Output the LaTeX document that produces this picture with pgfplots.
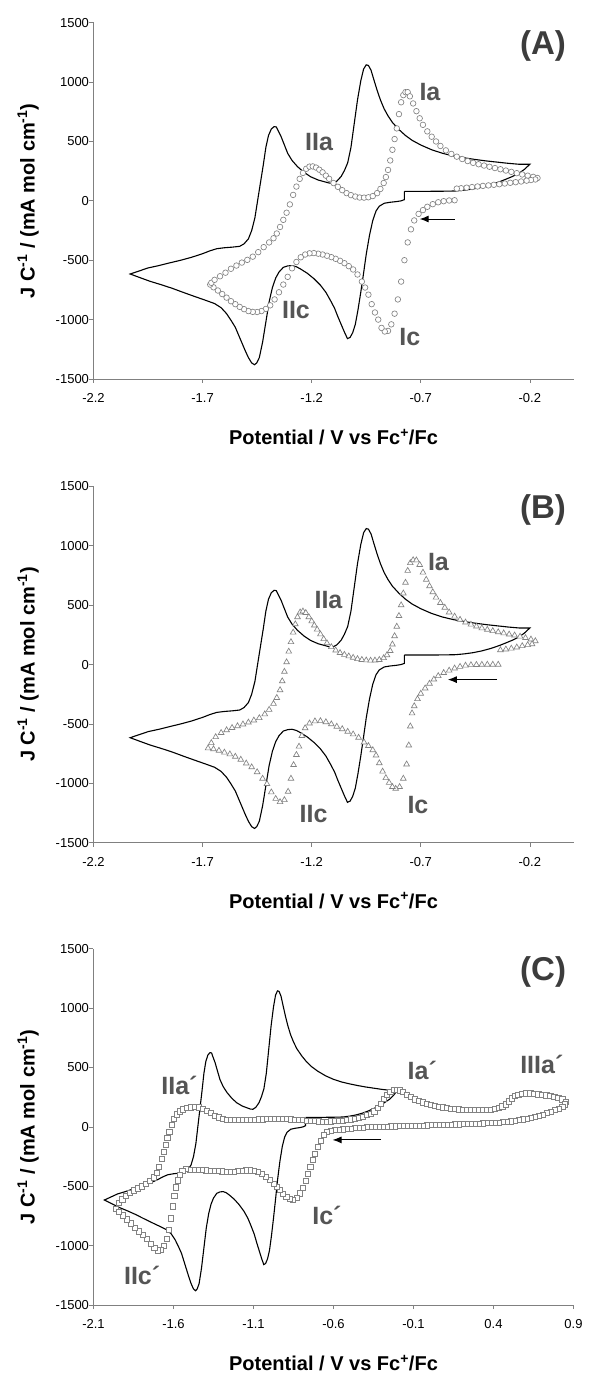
\documentclass[border=0pt]{standalone}
\usepackage{fontspec}
\setmainfont{Liberation Sans}
\usepackage{pgfplots}
\usepackage{pgfplotstable}
\pgfplotsset{compat=1.18}
\usetikzlibrary{arrows.meta}
\definecolor{mgray}{RGB}{130,130,130}
\definecolor{agray}{RGB}{128,128,128}
\definecolor{lgray}{RGB}{85,85,85}
\definecolor{pgray}{RGB}{60,60,60}

\pgfplotstableread{
x y
-0.775 80
-0.775 10
-0.79 0
-0.81 -6
-0.84 -12
-0.867 -20
-0.89 -45
-0.905 -85
-0.92 -165
-0.935 -290
-0.95 -450
-0.963 -620
-0.975 -770
-0.988 -920
-1.0 -1040
-1.012 -1110
-1.024 -1150
-1.036 -1160
-1.05 -1105
-1.065 -1040
-1.08 -975
-1.095 -905
-1.115 -835
-1.135 -770
-1.16 -710
-1.19 -655
-1.22 -610
-1.25 -575
-1.27 -555
-1.29 -545
-1.31 -548
-1.33 -560
-1.35 -600
-1.365 -650
-1.38 -730
-1.395 -850
-1.41 -1020
-1.425 -1190
-1.44 -1320
-1.452 -1365
-1.462 -1380
-1.475 -1365
-1.49 -1320
-1.505 -1260
-1.52 -1195
-1.535 -1130
-1.55 -1065
-1.57 -1005
-1.59 -950
-1.615 -900
-1.645 -865
-1.69 -835
-1.74 -803
-1.79 -770
-1.84 -736
-1.89 -706
-1.94 -678
-1.985 -648
-2.032 -616
-1.99 -590
-1.95 -565
-1.90 -545
-1.85 -522
-1.80 -500
-1.75 -475
-1.70 -445
-1.665 -420
-1.635 -403
-1.60 -395
-1.565 -390
-1.53 -383
-1.51 -362
-1.49 -320
-1.475 -250
-1.46 -140
-1.448 0
-1.435 150
-1.422 300
-1.41 450
-1.398 550
-1.385 605
-1.372 625
-1.362 622
-1.355 595
-1.34 540
-1.325 470
-1.31 400
-1.29 340
-1.265 288
-1.235 240
-1.205 203
-1.17 175
-1.14 160
-1.12 150
-1.104 148
-1.085 165
-1.065 205
-1.05 255
-1.035 320
-1.02 450
-1.005 650
-0.99 850
-0.975 1010
-0.962 1110
-0.95 1145
-0.94 1140
-0.928 1100
-0.915 1020
-0.90 930
-0.885 850
-0.868 775
-0.85 715
-0.83 660
-0.80 600
-0.77 550
-0.74 510
-0.70 470
-0.65 430
-0.60 400
-0.55 378
-0.50 362
-0.45 348
-0.40 336
-0.35 326
-0.30 316
-0.25 308
-0.20 308
-0.225 265
-0.25 232
-0.28 205
-0.31 182
-0.34 160
-0.38 135
-0.42 115
-0.46 100
-0.50 90
-0.54 83
-0.60 81
-0.68 80
-0.775 80
}\solid

\pgfplotstableread{
x y
-0.545 5
-0.57 3
-0.595 -3
-0.62 -12
-0.645 -28
-0.67 -50
-0.69 -78
-0.71 -110
-0.73 -165
-0.745 -240
-0.76 -350
-0.775 -500
-0.79 -680
-0.805 -830
-0.82 -950
-0.835 -1040
-0.85 -1095
-0.865 -1100
-0.88 -1070
-0.895 -1000
-0.91 -940
-0.925 -870
-0.94 -790
-0.955 -730
-0.97 -680
-0.99 -620
-1.01 -578
-1.03 -550
-1.05 -525
-1.07 -505
-1.09 -488
-1.11 -474
-1.13 -462
-1.15 -452
-1.17 -445
-1.19 -440
-1.21 -442
-1.23 -452
-1.25 -475
-1.27 -515
-1.29 -568
-1.31 -640
-1.33 -705
-1.35 -770
-1.37 -830
-1.39 -880
-1.41 -910
-1.43 -928
-1.45 -936
-1.47 -935
-1.49 -928
-1.51 -912
-1.53 -893
-1.55 -870
-1.57 -845
-1.59 -815
-1.61 -785
-1.63 -755
-1.65 -728
-1.665 -705
-1.66 -690
-1.645 -665
-1.62 -635
-1.595 -605
-1.57 -572
-1.545 -545
-1.52 -520
-1.495 -497
-1.47 -470
-1.445 -432
-1.42 -390
-1.395 -350
-1.375 -315
-1.36 -275
-1.345 -220
-1.33 -160
-1.315 -100
-1.30 -30
-1.285 50
-1.27 120
-1.255 185
-1.24 235
-1.225 270
-1.21 288
-1.195 290
-1.18 280
-1.165 262
-1.15 240
-1.135 212
-1.12 185
-1.10 150
-1.08 118
-1.06 90
-1.04 65
-1.02 48
-1.00 36
-0.98 28
-0.96 27
-0.94 30
-0.92 40
-0.90 65
-0.885 100
-0.87 150
-0.86 200
-0.85 260
-0.84 340
-0.83 430
-0.82 520
-0.81 610
-0.80 730
-0.79 830
-0.78 890
-0.77 915
-0.76 915
-0.75 880
-0.735 820
-0.72 755
-0.705 695
-0.69 640
-0.67 585
-0.65 540
-0.63 500
-0.61 462
-0.585 425
-0.56 395
-0.535 372
-0.51 352
-0.485 335
-0.46 320
-0.435 308
-0.41 297
-0.385 287
-0.36 276
-0.335 266
-0.31 255
-0.285 244
-0.26 233
-0.235 222
-0.21 212
-0.185 202
-0.165 192
-0.175 180
-0.195 175
-0.215 170
-0.24 163
-0.265 157
-0.29 152
-0.315 146
-0.34 140
-0.365 135
-0.39 130
-0.415 126
-0.44 121
-0.465 116
-0.49 111
-0.515 106
-0.535 103
}\circA

\pgfplotstableread{
x y
-0.345 0
-0.37 0
-0.395 0
-0.42 -1
-0.445 -2
-0.47 -4
-0.495 -8
-0.52 -18
-0.545 -32
-0.57 -50
-0.595 -70
-0.62 -96
-0.64 -125
-0.66 -160
-0.68 -200
-0.70 -245
-0.715 -290
-0.73 -350
-0.74 -410
-0.748 -520
-0.755 -680
-0.765 -840
-0.78 -960
-0.797 -1030
-0.815 -1045
-0.83 -1030
-0.845 -995
-0.86 -955
-0.875 -900
-0.89 -830
-0.905 -765
-0.92 -720
-0.94 -685
-0.96 -655
-0.985 -615
-1.01 -587
-1.035 -565
-1.06 -543
-1.085 -522
-1.11 -502
-1.135 -484
-1.16 -475
-1.185 -477
-1.21 -495
-1.23 -535
-1.245 -600
-1.258 -690
-1.27 -760
-1.283 -845
-1.295 -960
-1.308 -1070
-1.325 -1140
-1.345 -1157
-1.365 -1130
-1.385 -1075
-1.405 -1005
-1.425 -960
-1.45 -905
-1.475 -864
-1.50 -832
-1.525 -800
-1.55 -775
-1.575 -755
-1.60 -740
-1.625 -725
-1.65 -712
-1.675 -705
-1.66 -660
-1.64 -610
-1.615 -575
-1.59 -552
-1.565 -533
-1.54 -518
-1.515 -503
-1.49 -487
-1.465 -470
-1.44 -450
-1.415 -418
-1.395 -380
-1.375 -330
-1.36 -280
-1.345 -215
-1.335 -140
-1.325 -60
-1.315 20
-1.305 110
-1.295 190
-1.285 270
-1.275 340
-1.265 400
-1.253 440
-1.24 448
-1.227 435
-1.213 400
-1.20 365
-1.188 330
-1.175 295
-1.16 255
-1.145 215
-1.13 180
-1.11 148
-1.09 120
-1.07 98
-1.05 83
-1.03 70
-1.01 58
-0.99 47
-0.97 40
-0.95 36
-0.93 34
-0.91 35
-0.89 40
-0.87 55
-0.855 80
-0.84 115
-0.83 170
-0.82 240
-0.81 320
-0.80 410
-0.79 500
-0.78 600
-0.77 690
-0.76 790
-0.748 855
-0.735 880
-0.72 878
-0.705 840
-0.69 775
-0.675 715
-0.66 660
-0.645 610
-0.63 565
-0.61 520
-0.59 480
-0.57 440
-0.545 405
-0.52 378
-0.495 355
-0.47 337
-0.445 321
-0.42 306
-0.395 294
-0.37 283
-0.345 273
-0.32 264
-0.295 254
-0.27 246
-0.245 236
-0.22 225
-0.195 212
-0.175 198
-0.19 172
-0.21 165
-0.235 156
-0.26 145
-0.285 135
-0.31 128
-0.335 122
}\triB

\pgfplotstableread{
x y
-1.96 -690
-1.94 -640
-1.92 -610
-1.90 -582
-1.875 -555
-1.85 -535
-1.825 -518
-1.80 -500
-1.775 -478
-1.75 -455
-1.725 -425
-1.705 -385
-1.69 -335
-1.675 -270
-1.662 -210
-1.65 -150
-1.638 -90
-1.626 -40
-1.612 15
-1.598 65
-1.58 105
-1.56 130
-1.54 147
-1.515 158
-1.49 165
-1.465 167
-1.44 165
-1.415 155
-1.39 135
-1.365 115
-1.34 95
-1.315 80
-1.29 70
-1.265 62
-1.24 57
-1.215 56
-1.19 57
-1.165 58
-1.14 60
-1.115 61
-1.09 62
-1.065 63
-1.04 64
-1.015 65
-0.99 66
-0.965 67
-0.94 67
-0.915 67
-0.89 66
-0.865 64
-0.84 62
-0.815 59
-0.79 56
-0.765 53
-0.74 51
-0.715 48
-0.69 46
-0.665 45
-0.64 45
-0.615 46
-0.59 48
-0.565 51
-0.54 54
-0.515 59
-0.49 64
-0.465 70
-0.44 77
-0.415 86
-0.39 98
-0.365 113
-0.345 130
-0.325 160
-0.305 195
-0.285 235
-0.265 270
-0.245 298
-0.225 312
-0.205 315
-0.185 308
-0.165 292
-0.14 270
-0.115 250
-0.09 232
-0.065 218
-0.04 206
-0.015 195
0.01 186
0.035 178
0.06 170
0.085 164
0.11 159
0.135 154
0.16 150
0.185 147
0.21 144
0.235 142
0.26 141
0.285 140
0.31 140
0.335 141
0.36 143
0.385 146
0.41 152
0.435 160
0.455 172
0.475 190
0.495 215
0.515 240
0.535 260
0.555 272
0.58 280
0.605 283
0.63 282
0.655 278
0.68 274
0.705 270
0.73 266
0.755 262
0.78 256
0.805 247
0.83 232
0.85 212
0.845 190
0.83 168
0.81 155
0.785 140
0.76 127
0.735 115
0.71 104
0.685 94
0.66 85
0.635 77
0.61 70
0.585 63
0.56 57
0.535 52
0.51 47
0.485 43
0.46 40
0.435 37
0.41 35
0.385 33
0.36 31
0.335 29
0.31 28
0.285 27
0.26 26
0.235 24
0.21 23
0.185 22
0.16 21
0.135 19
0.11 18
0.085 17
0.06 16
0.035 15
0.01 14
-0.015 13
-0.04 12
-0.065 11
-0.09 10
-0.115 9
-0.14 8
-0.165 7
-0.19 6
-0.215 5
-0.24 4
-0.265 3
-0.29 2
-0.315 1
-0.34 0
-0.365 -1
-0.39 -3
-0.415 -5
-0.44 -7
-0.465 -10
-0.49 -14
-0.515 -17
-0.54 -20
-0.565 -24
-0.59 -28
-0.615 -34
-0.64 -45
-0.66 -70
-0.68 -115
-0.70 -170
-0.715 -225
-0.73 -280
-0.745 -338
-0.76 -395
-0.775 -455
-0.79 -515
-0.81 -560
-0.83 -595
-0.855 -615
-0.875 -605
-0.895 -588
-0.915 -562
-0.935 -532
-0.955 -505
-0.975 -478
-1.00 -445
-1.025 -420
-1.05 -396
-1.075 -380
-1.10 -370
-1.125 -366
-1.15 -366
-1.175 -368
-1.20 -372
-1.225 -376
-1.25 -378
-1.275 -378
-1.30 -375
-1.325 -372
-1.35 -371
-1.375 -369
-1.40 -366
-1.425 -365
-1.45 -364
-1.475 -362
-1.50 -360
-1.525 -356
-1.545 -370
-1.562 -405
-1.575 -450
-1.585 -510
-1.595 -580
-1.605 -670
-1.615 -770
-1.628 -865
-1.642 -945
-1.66 -1000
-1.68 -1035
-1.70 -1040
-1.72 -1020
-1.74 -985
-1.765 -945
-1.79 -912
-1.815 -880
-1.84 -848
-1.865 -812
-1.89 -778
-1.915 -745
-1.94 -718
}\sqC

\pgfplotsset{
  cv/.style={
    scale only axis, width=480pt, height=356.3pt,
    ymin=-1500, ymax=1500,
    ytick={-1500,-1000,-500,0,500,1000,1500},
    yticklabels={-1500,-1000,-500,0,500,1000,1500},
    axis lines=left,
    axis line style={-, draw=agray, line width=0.7pt},
    tick align=outside, major tick length=4pt,
    tick style={draw=agray, line width=0.7pt},
    every tick label/.append style={font=\fontsize{13}{15}\selectfont, text=black},
    xticklabel style={yshift=-7pt},
    yticklabel style={xshift=3pt},
    clip=false,
    xlabel={\textbf{Potential / V vs Fc\textsuperscript{+}/Fc}},
    ylabel={\textbf{J C\textsuperscript{-1} / (mA mol cm\textsuperscript{-1})}},
    every axis x label/.style={at={(axis description cs:0.5,-0.163)}, anchor=center, font=\fontsize{20}{24}\selectfont},
    every axis y label/.style={at={(axis description cs:-0.136,0.5)}, anchor=center, rotate=90, font=\fontsize{20}{24}\selectfont},
  },
  solidline/.style={black, line width=1.1pt, no marks},
}
\tikzset{
  plab/.style={font=\bfseries\fontsize{25}{28}\selectfont, text=lgray},
  panlab/.style={font=\bfseries\fontsize{33}{36}\selectfont, text=pgray},
  arr/.style={-{Latex[length=9pt,width=7pt]}, line width=1pt, black},
}

\begin{document}
\begin{tikzpicture}
\path[use as bounding box] (0pt,0pt) rectangle (589pt,1373pt);

% ---------------- (A)
\begin{axis}[cv, at={(93.5pt,994pt)}, anchor=south west,
  xmin=-2.2, xmax=0,
  xtick={-2.2,-1.7,-1.2,-0.7,-0.2},
  xticklabels={-2.2,-1.7,-1.2,-0.7,-0.2}]
\addplot[solidline] table {\solid};
\addplot[only marks, mark=*, mark size=2.8pt, mark options={draw=mgray, fill=white, line width=0.65pt}] table {\circA};
\draw[arr] (axis cs:-0.545,-153) -- (axis cs:-0.705,-153);
\node[plab] at (axis cs:-0.658,919) {Ia};
\node[plab] at (axis cs:-1.166,498) {IIa};
\node[plab] at (axis cs:-1.272,-919) {IIc};
\node[plab] at (axis cs:-0.750,-1149) {Ic};
\node[panlab] at (axis cs:-0.14,1300) {(A)};
\end{axis}

% ---------------- (B)
\begin{axis}[cv, at={(93.5pt,530.3pt)}, anchor=south west,
  xmin=-2.2, xmax=0,
  xtick={-2.2,-1.7,-1.2,-0.7,-0.2},
  xticklabels={-2.2,-1.7,-1.2,-0.7,-0.2}]
\addplot[solidline] table {\solid};
\addplot[only marks, mark=triangle*, mark size=3.3pt, mark options={draw=mgray, fill=white, line width=0.65pt}] table {\triB};
\draw[arr] (axis cs:-0.35,-127) -- (axis cs:-0.576,-127);
\node[plab] at (axis cs:-0.619,866) {Ia};
\node[plab] at (axis cs:-1.123,545) {IIa};
\node[plab] at (axis cs:-1.191,-1255) {IIc};
\node[plab] at (axis cs:-0.713,-1185) {Ic};
\node[panlab] at (axis cs:-0.14,1300) {(B)};
\end{axis}

% ---------------- (C)
\begin{axis}[cv, at={(93.5pt,68pt)}, anchor=south west,
  xmin=-2.1, xmax=0.9,
  xtick={-2.1,-1.6,-1.1,-0.6,-0.1,0.4,0.9},
  xticklabels={-2.1,-1.6,-1.1,-0.6,-0.1,0.4,0.9}]
\addplot[solidline] table {\solid};
\addplot[only marks, mark=square*, mark size=2.6pt, mark options={draw=mgray, fill=white, line width=0.65pt}] table {\sqC};
\draw[arr] (axis cs:-0.302,-110) -- (axis cs:-0.606,-110);
\node[plab] at (axis cs:-1.563,345) {IIa´};
\node[plab] at (axis cs:-0.045,471) {Ia´};
\node[plab] at (axis cs:0.702,527) {IIIa´};
\node[plab] at (axis cs:-0.641,-745) {Ic´};
\node[plab] at (axis cs:-1.796,-1248) {IIc´};
\node[panlab] at (axis cs:0.71,1300) {(C)};
\end{axis}
\end{tikzpicture}
\end{document}
